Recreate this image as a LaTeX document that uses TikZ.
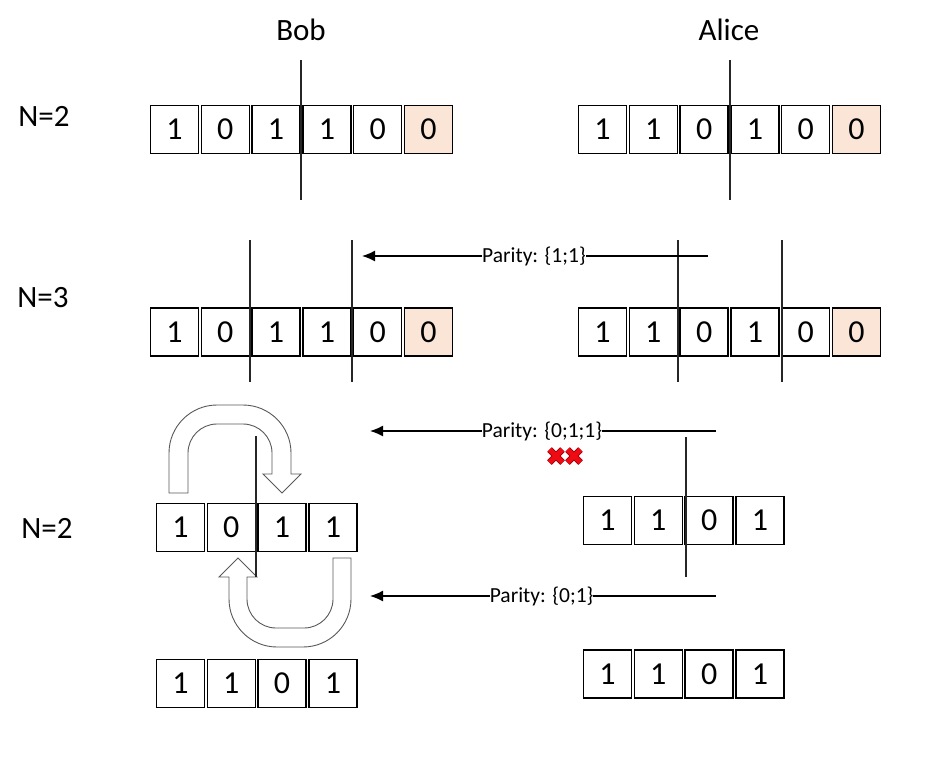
\documentclass[tikz,border=0pt]{standalone}
\usepackage{fontspec}
\setmainfont{Carlito}
\usetikzlibrary{arrows.meta}
\definecolor{peach}{HTML}{FBE5D6}
\definecolor{outl}{HTML}{595959}
\definecolor{xred}{HTML}{F00A14}
\definecolor{xdark}{HTML}{A00008}
\begin{document}
\begin{tikzpicture}[x=1pt,y=-1pt,
  cell/.style={draw=black,line width=1.4pt,minimum width=48pt,minimum height=48pt,inner sep=0pt,
    font=\fontsize{32}{32}\selectfont},
  hlcell/.style={cell,fill=peach},
  divider/.style={draw=black!85,line width=1.2pt},
  msg/.style={draw=black,line width=1.4pt,-{Latex[length=13pt,width=11pt]}},
  plabel/.style={fill=white,inner sep=0pt,font=\fontsize{21.5}{21.5}\selectfont},
  lbl/.style={anchor=base,font=\fontsize{31}{31}\selectfont},
  uarrow/.style={draw=outl,line width=0.9pt,fill=white},
  crossout/.style={line width=6.5pt,draw=xdark},
  cross/.style={line width=4.8pt,draw=xred}]
\useasboundingbox (0,0) rectangle (928,761);
% labels
\node[lbl] (bob) at (301,40) {Bob};
\node[lbl] (alice) at (729,40) {Alice};
\node[lbl] (n1) at (44,126) {N=2};
\node[lbl] (n2) at (43,307) {N=3};
\node[lbl] (n3) at (47,538) {N=2};
% U-turn arrows
\draw[uarrow] (169,493) -- (169,453) .. controls (169,426.5) and (190.5,405) .. (217,405) -- (243,405)
  .. controls (269.5,405) and (291,426.5) .. (291,453) -- (291,474) -- (301,474) -- (282,493) -- (263,474)
  -- (272,474) -- (272,453) .. controls (272,437) and (259,424) .. (243,424) -- (217,424)
  .. controls (201,424) and (188,437) .. (188,453) -- (188,493) -- cycle;
\draw[uarrow] (333,558) -- (351,558) -- (351,599) .. controls (351,625.5) and (329.5,647) .. (303,647)
  -- (277,647) .. controls (250.5,647) and (229,625.5) .. (229,599) -- (229,577) -- (219,577)
  -- (238,558) -- (257,577) -- (247,577) -- (247,599) .. controls (247,615) and (260,628) .. (276,628)
  -- (304,628) .. controls (320,628) and (333,615) .. (333,599) -- cycle;
% row 1
\foreach \v/\s [count=\i] in {1/cell,0/cell,1/cell,1/cell,0/cell,0/hlcell}
  \node[\s] (ba\i) at ({174.5+(\i-1)*50.8},129.5) {\v};
\foreach \v/\s [count=\i] in {1/cell,1/cell,0/cell,1/cell,0/cell,0/hlcell}
  \node[\s] (aa\i) at ({602.5+(\i-1)*50.8},129.5) {\v};
% row 2
\foreach \v/\s [count=\i] in {1/cell,0/cell,1/cell,1/cell,0/cell,0/hlcell}
  \node[\s] (bb\i) at ({174.5+(\i-1)*50.8},332) {\v};
\foreach \v/\s [count=\i] in {1/cell,1/cell,0/cell,1/cell,0/cell,0/hlcell}
  \node[\s] (ab\i) at ({602.5+(\i-1)*50.8},332) {\v};
% row 3
\foreach \v [count=\i] in {1,0,1,1}
  \node[cell] (bc\i) at ({180.5+(\i-1)*50.8},527.5) {\v};
\foreach \v [count=\i] in {1,1,0,1}
  \node[cell] (ac\i) at ({607.5+(\i-1)*50.8},520.5) {\v};
% row 4
\foreach \v [count=\i] in {1,1,0,1}
  \node[cell] (bd\i) at ({180.5+(\i-1)*50.8},683.5) {\v};
\foreach \v [count=\i] in {1,1,0,1}
  \node[cell] (ad\i) at ({607.5+(\i-1)*50.8},674) {\v};
% dividers
\coordinate (d1t) at (301,60); \coordinate (d1b) at (301,200);
\coordinate (d2t) at (730,60); \coordinate (d2b) at (730,200);
\coordinate (d3t) at (250,240); \coordinate (d3b) at (250,382);
\coordinate (d4t) at (352,240); \coordinate (d4b) at (352,382);
\coordinate (d5t) at (678,240); \coordinate (d5b) at (678,382);
\coordinate (d6t) at (782,240); \coordinate (d6b) at (782,382);
\coordinate (d7t) at (256,436); \coordinate (d7b) at (256,577);
\coordinate (d8t) at (686,437); \coordinate (d8b) at (686,577);
\foreach \k in {1,...,8} \draw[divider] (d\k t) -- (d\k b);
% messages
\coordinate (m1s) at (708,256); \coordinate (m1e) at (362,256);
\coordinate (m2s) at (716,431); \coordinate (m2e) at (370,431);
\coordinate (m3s) at (716,596); \coordinate (m3e) at (370,596);
\draw[msg] (m1s) -- node[plabel,pos=0.503] (p1) {Parity: \{1;1\}} (m1e);
\draw[msg] (m2s) -- node[plabel,pos=0.503] (p2) {Parity: \{0;1;1\}} (m2e);
\draw[msg] (m3s) -- node[plabel,pos=0.504] (p3) {Parity: \{0;1\}} (m3e);
% crosses
\foreach \cx in {556,574} {
  \draw[crossout] (\cx-6.5,449.5) -- (\cx+6.5,462.5);
  \draw[crossout] (\cx-6.5,462.5) -- (\cx+6.5,449.5);
}
\foreach \cx in {556,574} {
  \draw[cross] (\cx-6.5,449.5) -- (\cx+6.5,462.5);
  \draw[cross] (\cx-6.5,462.5) -- (\cx+6.5,449.5);
}
\end{tikzpicture}
\end{document}
